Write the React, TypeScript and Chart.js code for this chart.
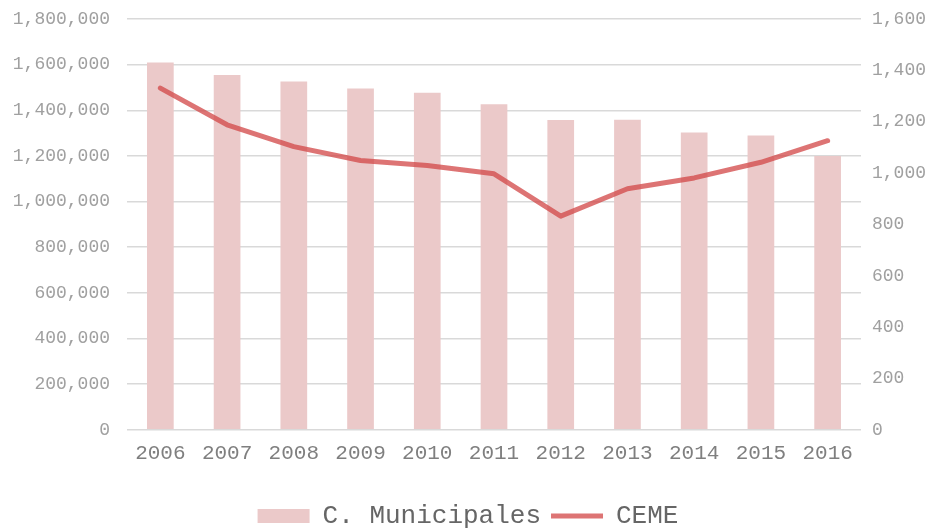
import React, { useEffect, useRef } from "react";
import { Chart, registerables } from "chart.js";

Chart.register(...registerables);

const years = ["2006", "2007", "2008", "2009", "2010", "2011", "2012", "2013", "2014", "2015", "2016"];
const municipales = [1609000, 1555000, 1526000, 1496000, 1477000, 1427000, 1357000, 1359000, 1303000, 1289000, 1200000];
const ceme = [1331, 1188, 1103, 1049, 1029, 997, 832, 939, 981, 1042, 1126];
const leftTicksMax = 1800000;
const leftStep = 200000;
const rightTicksMax = 1600;
const rightStep = 200;

const MONO = "'Liberation Mono', 'DejaVu Sans Mono', monospace";

export default function App() {
  const ref = useRef<HTMLCanvasElement | null>(null);

  useEffect(() => {
    document.body.style.margin = "0";
    const canvas = ref.current;
    if (!canvas) return;
    const chart = new Chart(canvas, {
      type: "bar",
      data: {
        labels: years,
        datasets: [
          {
            type: "bar",
            label: "C. Municipales",
            data: municipales,
            backgroundColor: "#ebc9c9",
            borderWidth: 0,
            yAxisID: "y",
            barPercentage: 0.4,
            categoryPercentage: 1,
            order: 2,
            pointStyle: "rect",
          } as any,
          {
            type: "line",
            label: "CEME",
            data: ceme,
            borderColor: "rgba(210,70,70,0.75)",
            backgroundColor: "rgba(210,70,70,0.75)",
            borderWidth: 5,
            borderCapStyle: "round",
            borderJoinStyle: "round",
            pointRadius: 0,
            pointHoverRadius: 0,
            tension: 0,
            yAxisID: "y1",
            order: 1,
            pointStyle: "line",
          } as any,
        ],
      },
      options: {
        responsive: false,
        animation: false,
        layout: { padding: { top: 19, left: 0, right: 0, bottom: -11 } },
        plugins: {
          tooltip: { enabled: false },
          legend: {
            position: "bottom",
            labels: {
              usePointStyle: true,
              pointStyleWidth: 52,
              boxHeight: 14,
              padding: 10,
              color: "#666666",
              font: { family: MONO, size: 26 },
              sort: (a: any, b: any) => a.datasetIndex - b.datasetIndex,
            },
          },
        },
        scales: {
          x: {
            grid: { display: false },
            border: { display: false },
            ticks: {
              color: "#7f7f7f",
              font: { family: MONO, size: 21 },
              padding: 3,
              maxRotation: 0,
            },
            afterFit: (s: any) => {
              s.height = s.height + 24;
            },
          },
          y: {
            position: "left",
            min: 0,
            max: leftTicksMax,
            grid: { color: "#d9d9d9", lineWidth: 1.5, drawTicks: false },
            border: { display: false },
            ticks: {
              stepSize: leftStep,
              color: "#a0a0a0",
              font: { family: MONO, size: 18 },
              padding: 17,
              callback: (v: any) => Number(v).toLocaleString("en-US"),
            },
            afterFit: (s: any) => {
              s.width = 127;
              s.paddingTop = 0;
              s.paddingBottom = 0;
            },
          },
          y1: {
            position: "right",
            min: 0,
            max: rightTicksMax,
            grid: { display: false, drawTicks: false },
            border: { display: false },
            ticks: {
              stepSize: rightStep,
              color: "#a0a0a0",
              font: { family: MONO, size: 18 },
              padding: 11,
              callback: (v: any) => Number(v).toLocaleString("en-US"),
            },
            afterFit: (s: any) => {
              s.width = 75;
              s.paddingTop = 0;
              s.paddingBottom = 0;
            },
          },
        },
      },
    });
    return () => chart.destroy();
  }, []);

  return <canvas ref={ref} width={936} height={528} style={{ display: "block" }} />;
}
